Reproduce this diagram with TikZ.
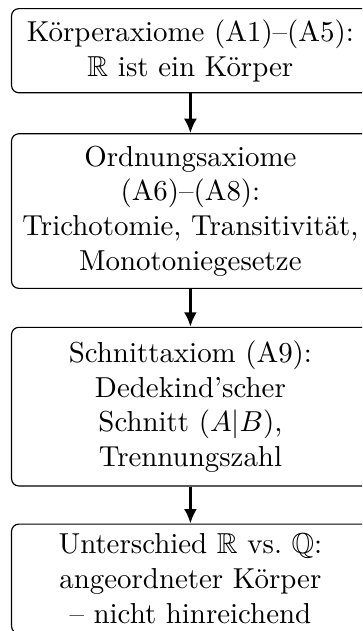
\documentclass[tikz,border=0pt]{standalone}
\usepackage{amsfonts}
\usepackage{amsmath}
\usepackage{amssymb}
\usepackage{tikz}
\usetikzlibrary{positioning,arrows.meta}

\begin{document}
\begin{tikzpicture}[
    axbox/.style={draw, rounded corners=2.5pt, align=center, text width=119pt,
        inner xsep=2.4pt, inner ysep=3.4pt, anchor=north west},
    axarrow/.style={-{Latex[length=5pt,width=4.5pt]}, line width=0.9pt}
]
\clip (0,0) rectangle (125.3pt,-218.4pt);

\node[axbox, minimum height=29.1pt] (koerper) at (3.8pt,-2.8pt) {K\"orperaxiome (A1)--(A5):\\ $\mathbb{R}$ ist ein K\"orper};

\node[axbox, minimum height=53.5pt, below=13.8pt of koerper.south west, anchor=north west] (ordnung) {Ordnungsaxiome\\ (A6)--(A8):\\ Trichotomie, Transitivit\"at,\\ Monotoniegesetze};

\node[axbox, minimum height=54.9pt, below=13.1pt of ordnung.south west, anchor=north west] (schnitt) {Schnittaxiom (A9):\\ Dedekind’scher\\ Schnitt $(A|B)$,\\ Trennungszahl};

\node[axbox, below=12.8pt of schnitt.south west, anchor=north west] (unterschied) {Unterschied $\mathbb{R}$ vs.\ $\mathbb{Q}$:\\ angeordneter K\"orper\\ -- nicht hinreichend};

\draw[axarrow] (koerper) -- (ordnung);
\draw[axarrow] (ordnung) -- (schnitt);
\draw[axarrow] (schnitt) -- (unterschied);
\end{tikzpicture}
\end{document}
